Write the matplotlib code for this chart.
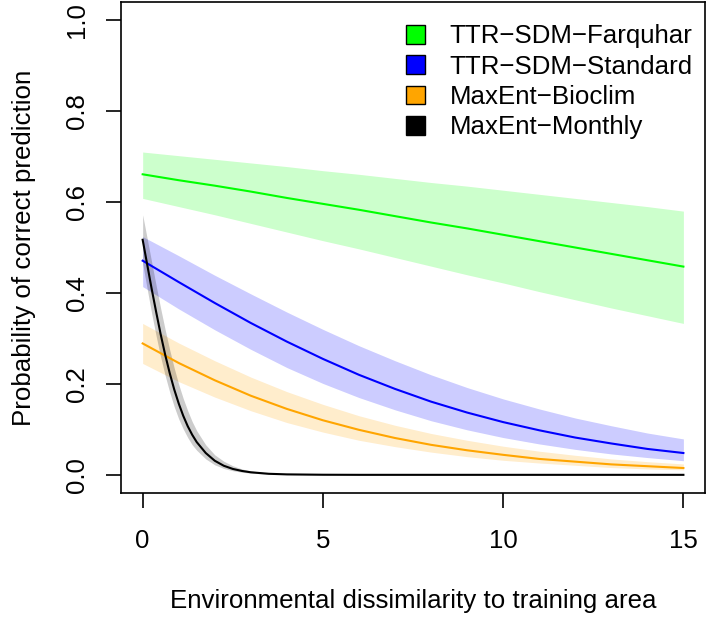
import numpy as np
import matplotlib
matplotlib.use("Agg")
import matplotlib.pyplot as plt
from matplotlib.patches import Patch

plt.rcParams['font.family'] = ['Liberation Sans', 'DejaVu Sans']

x_vals = [0, 1, 2, 3, 4, 5, 6, 7, 8, 9, 10, 11, 12, 13, 14, 15]

# TTR-SDM-Farquhar
farq_fit = [0.661, 0.648, 0.636, 0.623, 0.609, 0.596, 0.583, 0.569,
            0.555, 0.542, 0.528, 0.514, 0.500, 0.486, 0.472, 0.458]
farq_hi = [0.710, 0.702, 0.694, 0.686, 0.678, 0.669, 0.661, 0.652,
           0.643, 0.635, 0.626, 0.617, 0.608, 0.599, 0.590, 0.580]
farq_lo = [0.608, 0.590, 0.572, 0.553, 0.534, 0.515, 0.497, 0.478,
           0.459, 0.440, 0.422, 0.403, 0.385, 0.367, 0.350, 0.333]

# TTR-SDM-Standard
std_fit = [0.471, 0.424, 0.378, 0.334, 0.293, 0.255, 0.220, 0.189,
           0.161, 0.137, 0.116, 0.098, 0.082, 0.069, 0.057, 0.048]
std_hi = [0.524, 0.482, 0.439, 0.398, 0.358, 0.320, 0.284, 0.251,
          0.220, 0.192, 0.167, 0.145, 0.125, 0.108, 0.092, 0.079]
std_lo = [0.414, 0.365, 0.319, 0.276, 0.236, 0.201, 0.170, 0.143,
          0.119, 0.099, 0.082, 0.068, 0.056, 0.046, 0.038, 0.031]

# MaxEnt-Bioclim
bio_fit = [0.289, 0.246, 0.208, 0.174, 0.145, 0.120, 0.099, 0.081,
           0.066, 0.054, 0.044, 0.035, 0.029, 0.023, 0.019, 0.015]
bio_hi = [0.333, 0.290, 0.251, 0.215, 0.183, 0.155, 0.130, 0.109,
          0.091, 0.076, 0.063, 0.052, 0.043, 0.035, 0.029, 0.024]
bio_lo = [0.245, 0.205, 0.171, 0.141, 0.115, 0.094, 0.076, 0.062,
          0.050, 0.040, 0.032, 0.026, 0.021, 0.016, 0.013, 0.011]

# MaxEnt-Monthly (drops fast, so read more finely near 0)
x_month = [0, 0.125, 0.25, 0.375, 0.5, 0.625, 0.75, 0.875, 1.0, 1.125,
           1.25, 1.375, 1.5, 1.75, 2.0, 2.25, 2.5, 2.75, 3.0, 3.5, 4, 5,
           6, 8, 10, 12, 15]
month_fit = [0.517, 0.463, 0.409, 0.358, 0.309, 0.264, 0.224, 0.188, 0.157,
             0.130, 0.107, 0.088, 0.072, 0.048, 0.031, 0.020, 0.013, 0.0086,
             0.0056, 0.0023, 0.001, 0.0002, 0, 0, 0, 0, 0]
month_hi = [0.572, 0.520, 0.468, 0.416, 0.366, 0.319, 0.275, 0.235, 0.199,
            0.168, 0.141, 0.117, 0.097, 0.066, 0.044, 0.030, 0.020, 0.013,
            0.0086, 0.0037, 0.0016, 0.0003, 0, 0, 0, 0, 0]
month_lo = [0.465, 0.409, 0.355, 0.305, 0.259, 0.218, 0.182, 0.150, 0.123,
            0.101, 0.082, 0.066, 0.054, 0.035, 0.022, 0.014, 0.009, 0.0058,
            0.0037, 0.0015, 0.0006, 0.0001, 0, 0, 0, 0, 0]

labels = ["TTR\u2212SDM\u2212Farquhar", "TTR\u2212SDM\u2212Standard",
          "MaxEnt\u2212Bioclim", "MaxEnt\u2212Monthly"]
colors = ["#00FF00", "#0000FF", "#FFA500", "#000000"]

series = [
    (x_vals, farq_fit, farq_lo, farq_hi),
    (x_vals, std_fit, std_lo, std_hi),
    (x_vals, bio_fit, bio_lo, bio_hi),
    (x_month, month_fit, month_lo, month_hi),
]

fs = 18.6

fig = plt.figure(figsize=(7.09, 6.2), dpi=100)
ax = fig.add_axes([0.1707, 0.2048, 0.8237, 0.792])

for (xs, fit, lo, hi), col in zip(series, colors):
    ax.fill_between(xs, lo, hi, color=col, alpha=0.2, linewidth=0)
    ax.plot(xs, fit, color=col, lw=1.5)

ax.set_xlim(-0.6, 15.6)
ax.set_ylim(-0.04, 1.04)
ax.set_xticks([0, 5, 10, 15])
ax.set_yticks([0.0, 0.2, 0.4, 0.6, 0.8, 1.0])
ax.set_yticklabels(["0.0", "0.2", "0.4", "0.6", "0.8", "1.0"],
                   rotation=90, va='center')
ax.tick_params(direction='out', length=11, width=1.2, labelsize=fs)
ax.tick_params(axis='x', pad=15)
ax.tick_params(axis='y', pad=12)
for s in ax.spines.values():
    s.set_linewidth(1.2)

ax.set_xlabel("Environmental dissimilarity to training area", fontsize=fs, labelpad=26)
ax.set_ylabel("Probability of correct prediction", fontsize=fs, labelpad=21)

handles = [Patch(facecolor=c, edgecolor='black', linewidth=1) for c in colors]
ax.legend(handles, labels, loc='upper right', bbox_to_anchor=(0.997, 0.976),
          frameon=False, fontsize=fs, handlelength=0.75, handleheight=0.75,
          handletextpad=0.95, labelspacing=0.25, borderaxespad=0)

fig.savefig("out.png", dpi=100)
